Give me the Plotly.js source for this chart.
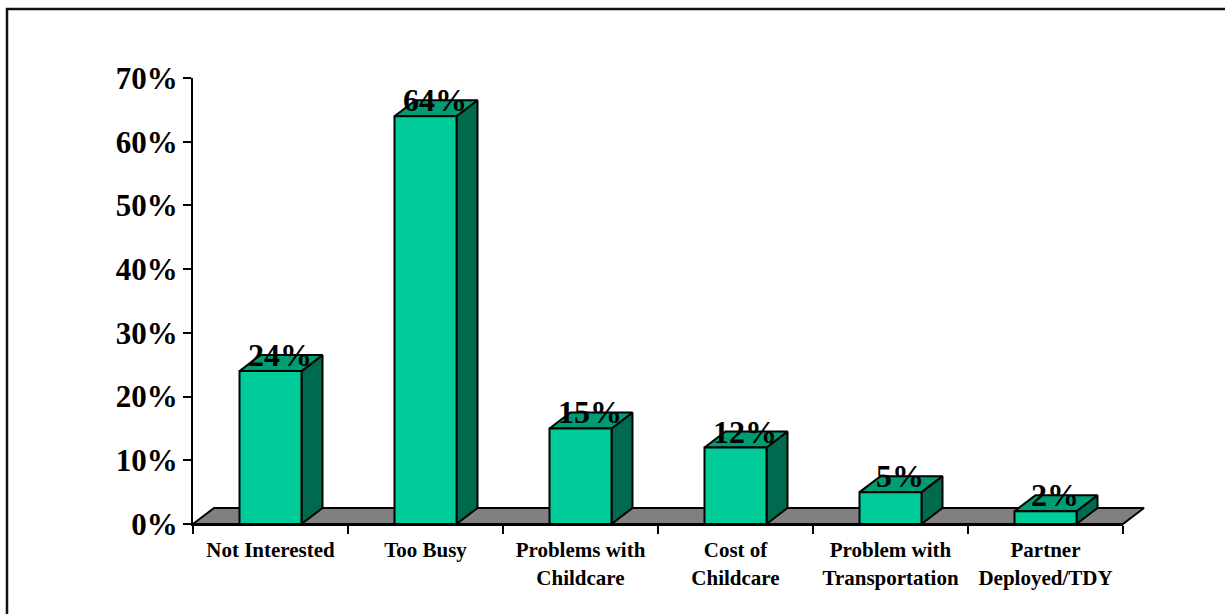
<!DOCTYPE html>
<html>
<head>
<meta charset="utf-8">
<script src="https://cdn.plot.ly/plotly-3.0.1.min.js"></script>
<style>
  html, body { margin: 0; padding: 0; background: #ffffff; }
  #chart { width: 1225px; height: 614px; }
</style>
</head>
<body>
<div id="chart"></div>
<script>
// ---- data ----
const categories = ['Not Interested', 'Too Busy', 'Problems with<br>Childcare', 'Cost of<br>Childcare', 'Problem with<br>Transportation', 'Partner<br>Deployed/TDY'];
const values = [24, 64, 15, 12, 5, 2];
const valueLabels = ['24%', '64%', '15%', '12%', '5%', '2%'];
const yTickVals = [0, 10, 20, 30, 40, 50, 60, 70];
const yTickText = ['0%', '10%', '20%', '30%', '40%', '50%', '60%', '70%'];

// ---- geometry / style ----
const W = 1225, H = 614;
const AX_L = 193, AX_R = 1123, AX_T = 78, AX_B = 524;   // visible axes box (px)
const EX_L = 175, EX_R = 1175, EX_T = 55, EX_B = 545;   // extended box for 3D faces (px)
const Y_MAX = 70;
const pxPerCat = (AX_R - AX_L) / categories.length;
const pxPerUnit = (AX_B - AX_T) / Y_MAX;
const DX = 21 / pxPerCat;      // depth offset in category units
const DY = 16 / pxPerUnit;     // depth offset in value units
const HALF = 0.2;              // half bar width

const FRONT = '#00CC99', TOP = '#009C74', SIDE = '#006A4E', FLOOR = '#808080';
const FONT = 'Liberation Serif, Times New Roman, serif';

const xr = [(EX_L - AX_L) / pxPerCat - 0.5, (EX_R - AX_L) / pxPerCat - 0.5];
const yr = [(AX_B - EX_B) / pxPerUnit, (AX_B - EX_T) / pxPerUnit];

const traces = [];
const n = categories.length;

// floor
traces.push({
  type: 'scatter', mode: 'lines', fill: 'toself', fillcolor: FLOOR,
  x: [-0.5, n - 0.5, n - 0.5 + DX, -0.5 + DX, -0.5],
  y: [0, 0, DY, DY, 0],
  line: { color: '#000', width: 2 }, hoverinfo: 'skip', showlegend: false,
  xaxis: 'x', yaxis: 'y'
});

// top and side faces
values.forEach((v, i) => {
  traces.push({
    type: 'scatter', mode: 'lines', fill: 'toself', fillcolor: SIDE,
    x: [i + HALF, i + HALF + DX, i + HALF + DX, i + HALF, i + HALF],
    y: [0, DY, v + DY, v, 0],
    line: { color: '#000', width: 2 }, hoverinfo: 'skip', showlegend: false,
    xaxis: 'x', yaxis: 'y'
  });
  traces.push({
    type: 'scatter', mode: 'lines', fill: 'toself', fillcolor: TOP,
    x: [i - HALF, i + HALF, i + HALF + DX, i - HALF + DX, i - HALF],
    y: [v, v, v + DY, v + DY, v],
    line: { color: '#000', width: 2 }, hoverinfo: 'skip', showlegend: false,
    xaxis: 'x', yaxis: 'y'
  });
});

// front faces as real bars on visible axes
traces.push({
  type: 'bar', x: categories, y: values, width: 2 * HALF,
  marker: { color: FRONT, line: { color: '#000', width: 2 } },
  hoverinfo: 'skip', showlegend: false,
  xaxis: 'x2', yaxis: 'y2'
});

const annotations = values.map((v, i) => ({
  xref: 'x', yref: 'y', x: i, y: v, xshift: 9, yshift: 16,
  text: valueLabels[i], showarrow: false,
  xanchor: 'center', yanchor: 'middle',
  font: { family: FONT, size: 32, color: '#000', weight: 700 }
}));

const layout = {
  width: W, height: H, autosize: false,
  margin: { l: 0, r: 0, t: 0, b: 0, pad: 0 },
  paper_bgcolor: '#ffffff', plot_bgcolor: 'rgba(0,0,0,0)',
  showlegend: false,
  xaxis: {
    domain: [EX_L / W, EX_R / W], range: xr, visible: false, fixedrange: true
  },
  yaxis: {
    domain: [1 - EX_B / H, 1 - EX_T / H], range: yr, visible: false, fixedrange: true
  },
  xaxis2: {
    domain: [AX_L / W, AX_R / W], anchor: 'y2', type: 'category',
    range: [-0.5, n - 0.5], tickson: 'boundaries',
    ticks: 'outside', ticklen: 8, tickwidth: 2, tickcolor: '#000',
    showline: true, linecolor: '#000', linewidth: 2,
    showgrid: false, zeroline: false, automargin: false,
    ticklabelstandoff: 6,
    tickfont: { family: FONT, size: 21, color: '#000', weight: 700 }
  },
  yaxis2: {
    domain: [1 - AX_B / H, 1 - AX_T / H], anchor: 'x2',
    range: [0, Y_MAX], tickmode: 'array', tickvals: yTickVals, ticktext: yTickText,
    ticks: 'outside', ticklen: 8, tickwidth: 2, tickcolor: '#000',
    showline: true, linecolor: '#000', linewidth: 2,
    showgrid: false, zeroline: false, automargin: false,
    ticklabelstandoff: -1,
    tickfont: { family: FONT, size: 31, color: '#000', weight: 700 }
  },
  annotations: annotations,
  shapes: [{
    type: 'rect', xref: 'paper', yref: 'paper',
    x0: 7 / W, x1: 1.02, y0: -0.02, y1: 1 - 9 / H,
    line: { color: '#111', width: 2.5 }, fillcolor: 'rgba(0,0,0,0)', layer: 'below'
  }]
};

Plotly.newPlot('chart', traces, layout, { staticPlot: true, displayModeBar: false });
</script>
</body>
</html>
